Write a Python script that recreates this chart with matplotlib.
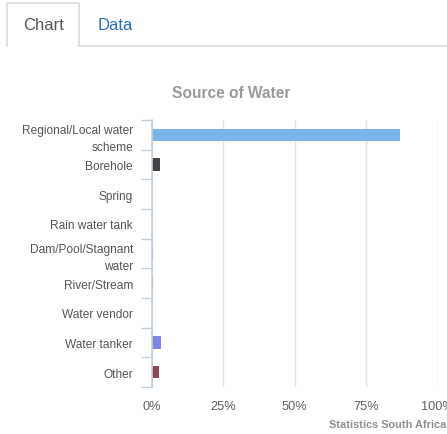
import matplotlib
matplotlib.use("Agg")
import matplotlib.pyplot as plt
from matplotlib.lines import Line2D

categories = ["Regional/Local water\nscheme", "Borehole", "Spring", "Rain water tank",
              "Dam/Pool/Stagnant\nwater", "River/Stream", "Water vendor", "Water tanker", "Other"]
values = [87.0, 2.9, 0.15, 0.2, 0.5, 0.6, 0.15, 3.3, 2.6]
colors = ["#7cb5ec", "#434348", "#90ed7d", "#f7a35c", "#8085e9", "#f15c80", "#e4d354", "#8085e8", "#8d4653"]
xticks = [0, 25, 50, 75, 100]
xticklabels = ["0%", "25%", "50%", "75%", "100%"]

W, H = 447, 435
plt.rcParams['font.family'] = ['Liberation Sans', 'DejaVu Sans']
fig = plt.figure(figsize=(W / 100, H / 100), dpi=100)

def fx(x):
    return x / W

def fy(y):
    return 1 - y / H

# tabs
tabc = "#dddddd"
fig.add_artist(Line2D([fx(7), fx(7), fx(79), fx(79)], [fy(47), fy(4), fy(4), fy(47)], color=tabc, lw=1.2))
fig.add_artist(Line2D([fx(79), fx(447)], [fy(47), fy(47)], color=tabc, lw=1.2))
fig.text(fx(43.5), fy(26), "Chart", fontsize=12, color="#555555", ha="center", va="center")
fig.text(fx(115.5), fy(26), "Data", fontsize=12, color="#2a6ebb", ha="center", va="center")

# title
fig.text(fx(231), fy(94), "Source of Water", fontsize=11.2, fontweight="bold", color="#9a9a9a",
         ha="center", va="center")

left, right, top, bottom = 151.5, 437.5, 121, 388
ax = fig.add_axes([fx(left), fy(bottom), (right - left) / W, (bottom - top) / H])
n = len(categories)
pos = list(range(n))
ax.barh(pos, values, height=0.42, color=colors, zorder=3)
ax.set_ylim(n - 0.5, -0.5)
ax.set_xlim(0, 100)
ax.set_xticks(xticks)
ax.set_xticklabels(xticklabels, fontsize=9.2, color="#606060")
ax.tick_params(axis="x", length=0, pad=9.5)
ax.set_yticks(pos)
ax.set_yticklabels(categories, fontsize=8.6, color="#555555", linespacing=1.5)
ax.set_yticks([i - 0.5 for i in range(n + 1)], minor=True)
ax.tick_params(axis="y", which="major", length=0, pad=13.3)
ax.tick_params(axis="y", which="minor", length=8, color="#c0d0e0", width=1)
ax.grid(axis="x", color="#e4e4e4", lw=1, zorder=0)
for s in ["top", "right", "bottom"]:
    ax.spines[s].set_visible(False)
ax.spines["left"].set_color("#c0d0e0")
ax.spines["left"].set_linewidth(1.2)
ax.spines["left"].set_zorder(4)

fig.text(fx(446), fy(425), "Statistics South Africa", fontsize=7.9, color="#909090",
         ha="right", va="center", fontweight="bold")

fig.savefig("out.png", dpi=100)
